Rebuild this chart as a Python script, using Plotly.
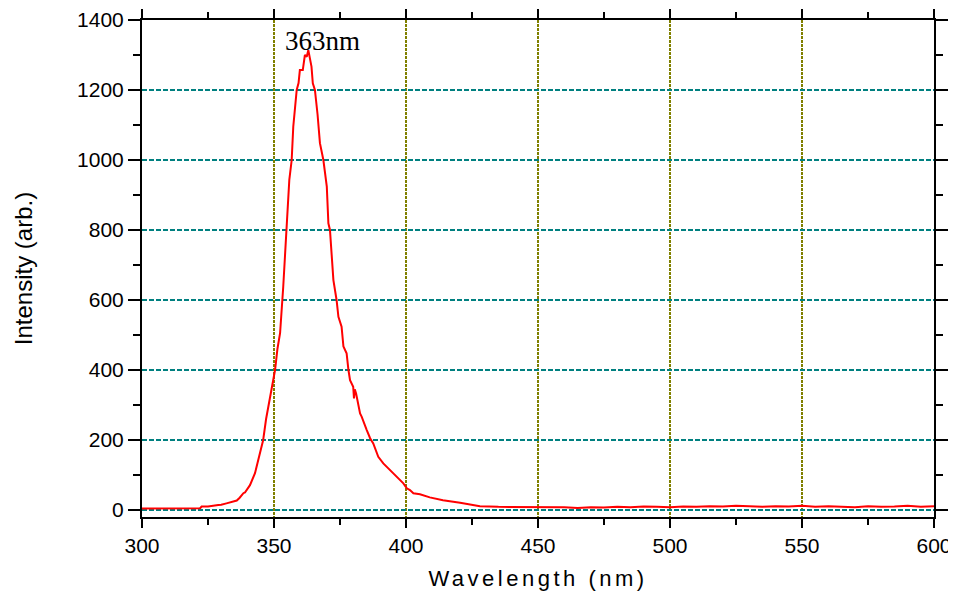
import plotly.graph_objects as go

wavelength = [300, 305, 310, 315, 320, 322, 322.6, 325, 328.9, 330, 332, 334, 335.9, 337, 338.4, 339,
              340.9, 342.8, 344, 345.9, 347, 348, 349.7, 350.4, 351.3, 352.3, 353.5, 354.8, 355.8,
              356.7, 357.3, 358.6, 359.3, 359.8, 360.9, 361.7, 362.4, 363.0, 363.6, 364.2, 364.7,
              365.5, 366.5, 367.4, 368.7, 370.0, 370.6, 371.2, 372.5, 373.7, 374.4, 375.6, 376.3,
              377.5, 378.2, 378.8, 380.0, 380.3, 380.6, 381.1, 382.6, 383.2, 385.1, 386.4, 387.6,
              389.5, 391.4, 393.9, 396.5, 399, 400.3, 401.5, 402.8, 405.3, 409, 414, 420.5, 428,
              435, 440, 447, 450, 455, 460, 465, 470, 475, 480, 485, 490, 495, 500, 505, 510, 515,
              520, 525, 530, 535, 540, 545, 550, 555, 560, 565, 570, 575, 580, 585, 590, 595, 600]
intensity = [4, 4, 4, 4, 5, 5, 10, 10, 14, 15, 19, 22, 27, 35, 48, 50,
             71, 105, 140, 200, 260, 300, 371, 400, 460, 505, 638, 800, 943,
             1000, 1095, 1200, 1220, 1257, 1257, 1300, 1295, 1314, 1295, 1267, 1219,
             1200, 1130, 1048, 1000, 924, 819, 800, 657, 600, 552, 524, 467,
             448, 400, 371, 352, 319, 345, 333, 276, 267, 229, 205, 190,
             152, 133, 114, 95, 76, 62, 57, 48, 45, 36, 28, 21, 11,
             9, 9, 8, 8, 7, 8, 6, 8, 7, 9, 8, 10, 9, 8, 10, 9, 11,
             10, 12, 10, 9, 11, 10, 12, 9, 11, 10, 8, 11, 9, 10, 12, 9, 11]

x_ticks = [300, 350, 400, 450, 500, 550, 600]
y_ticks = [0, 200, 400, 600, 800, 1000, 1200, 1400]
peak_label = "363nm"

fig = go.Figure()
fig.add_trace(go.Scatter(x=wavelength, y=intensity, mode="lines",
                         line=dict(color="#ff0000", width=2), showlegend=False))

fig.add_annotation(x=368.2, y=1340, text=peak_label, showarrow=False,
                   font=dict(family="Liberation Serif", size=27, color="black"))

axis_common = dict(showline=True, linecolor="black", linewidth=2, mirror="ticks",
                   ticks="outside", tickwidth=2, tickcolor="black",
                   zeroline=False, showgrid=True,
                   tickfont=dict(family="Liberation Sans", size=21, color="black"))

fig.update_xaxes(range=[300, 600], tickvals=x_ticks, gridcolor="#808000", griddash="3px,1px",
                 gridwidth=2, ticklen=9,
                 minor=dict(dtick=25, ticks="outside", ticklen=6, tickwidth=2, tickcolor="black",
                            showgrid=False),
                 title=dict(text="Wavelength (nm)", standoff=14,
                            font=dict(family="Liberation Sans", size=22, color="black")),
                 **axis_common)
fig.update_yaxes(range=[-20, 1400], tickvals=y_ticks, gridcolor="#008080", griddash="5px,2px",
                 gridwidth=1.5, ticklen=12,
                 minor=dict(dtick=100, tick0=0, ticks="outside", ticklen=7, tickwidth=2,
                            tickcolor="black", showgrid=False),
                 title=dict(text="Intensity (arb.)", standoff=38,
                            font=dict(family="Liberation Sans", size=24, color="black")),
                 **axis_common)

fig.update_layout(width=948, height=587, margin=dict(l=134, r=22, t=12, b=78, autoexpand=False),
                  plot_bgcolor="white", paper_bgcolor="white")

fig.write_html("out.html",
               post_script="document.querySelectorAll('.xtitle').forEach(function(e){e.style.letterSpacing='3.5px';});")
